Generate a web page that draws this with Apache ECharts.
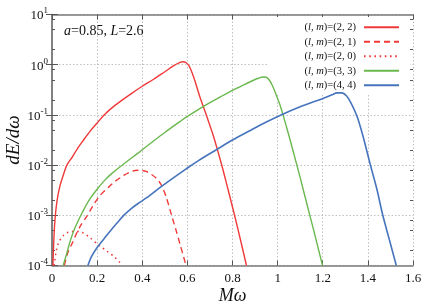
<!DOCTYPE html>
<html>
<head>
<meta charset="utf-8">
<script src="https://cdn.jsdelivr.net/npm/echarts@6/dist/echarts.min.js"></script>
<style>html,body{margin:0;padding:0;background:#fff}#c{width:436px;height:305px}</style>
</head>
<body>
<div id="c"></div>
<script>
// ---- data ----
var seriesNames = ['(l, m)=(2, 2)', '(l, m)=(2, 1)', '(l, m)=(2, 0)', '(l, m)=(3, 3)', '(l, m)=(4, 4)'];

var l2m2X = [0.004, 0.008, 0.013, 0.022, 0.035, 0.05, 0.066, 0.09, 0.11, 0.14, 0.17, 0.2, 0.23, 0.26, 0.3, 0.35, 0.4, 0.45, 0.5, 0.54, 0.565, 0.58, 0.595, 0.608, 0.62, 0.634, 0.656, 0.686, 0.716, 0.751, 0.78, 0.808, 0.835, 0.862];
var l2m2Y = [1.0e-4, 3.16e-4, 7.9e-4, 1.9e-3, 3.8e-3, 6.3e-3, 1.0e-2, 1.45e-2, 2.04e-2, 3.16e-2, 4.8e-2, 6.9e-2, 9.8e-2, 0.132, 0.182, 0.263, 0.372, 0.513, 0.724, 0.955, 1.096, 1.148, 1.096, 0.933, 0.708, 0.468, 0.224, 0.0933, 0.0372, 0.0105, 3.3e-3, 1.05e-3, 3.3e-4, 1.0e-4];

var l2m1X = [0.055, 0.07, 0.09, 0.107, 0.13, 0.154, 0.18, 0.21, 0.25, 0.284, 0.32, 0.357, 0.387, 0.42, 0.46, 0.482, 0.505, 0.53, 0.55, 0.568, 0.594];
var l2m1Y = [1.0e-4, 1.8e-4, 2.8e-4, 4.2e-4, 6.6e-4, 9.5e-4, 1.5e-3, 2.4e-3, 3.6e-3, 4.9e-3, 6.3e-3, 7.6e-3, 7.9e-3, 7.4e-3, 5.6e-3, 4.2e-3, 2.4e-3, 1.0e-3, 5.0e-4, 2.6e-4, 1.0e-4];

var l2m0X = [0.009, 0.012, 0.019, 0.03, 0.049, 0.071, 0.1, 0.131, 0.168, 0.204, 0.242, 0.279, 0.313];
var l2m0Y = [1.0e-4, 1.23e-4, 1.95e-4, 2.9e-4, 3.9e-4, 4.6e-4, 4.8e-4, 4.6e-4, 3.6e-4, 2.6e-4, 1.95e-4, 1.45e-4, 1.0e-4];

var l3m3X = [0.05, 0.056, 0.064, 0.075, 0.086, 0.1, 0.116, 0.128, 0.145, 0.17, 0.2, 0.23, 0.264, 0.323, 0.39, 0.45, 0.5, 0.568, 0.597, 0.686, 0.75, 0.804, 0.85, 0.893, 0.915, 0.935, 0.95, 0.962, 0.975, 0.99, 1.012, 1.04, 1.071, 1.1, 1.13, 1.16, 1.199];
var l3m3Y = [1.0e-4, 1.26e-4, 1.66e-4, 2.51e-4, 3.63e-4, 5.37e-4, 7.76e-4, 1.0e-3, 1.41e-3, 2.19e-3, 3.31e-3, 4.79e-3, 6.76e-3, 1.1e-2, 1.86e-2, 3.02e-2, 4.47e-2, 7.41e-2, 9.12e-2, 0.162, 0.234, 0.316, 0.398, 0.49, 0.537, 0.569, 0.562, 0.501, 0.398, 0.275, 0.151, 0.0562, 0.0174, 5.62e-3, 1.66e-3, 5.0e-4, 1.0e-4];

var l4m4X = [0.159, 0.175, 0.2, 0.23, 0.26, 0.29, 0.32, 0.35, 0.38, 0.42, 0.475, 0.53, 0.593, 0.649, 0.73, 0.8, 0.879, 0.95, 1.02, 1.1, 1.16, 1.204, 1.24, 1.265, 1.285, 1.305, 1.325, 1.353, 1.38, 1.41, 1.44, 1.465, 1.495, 1.526];
var l4m4Y = [1.0e-4, 1.51e-4, 2.29e-4, 3.39e-4, 5.0e-4, 7.2e-4, 1.02e-3, 1.35e-3, 1.7e-3, 2.24e-3, 3.47e-3, 5.25e-3, 8.3e-3, 1.23e-2, 2.04e-2, 3.16e-2, 4.9e-2, 7.2e-2, 0.102, 0.145, 0.182, 0.214, 0.251, 0.275, 0.275, 0.24, 0.174, 0.0912, 0.0355, 0.0105, 3.3e-3, 1.05e-3, 3.3e-4, 1.0e-4];

var yMajorTicks = [1e-4, 1e-3, 1e-2, 1e-1, 1, 10];
var yMinorTicks = [2e-4, 5e-4, 8e-4, 2e-3, 5e-3, 8e-3, 2e-2, 5e-2, 8e-2, 0.2, 0.5, 0.8, 2, 5, 8];

// ---- chart ----
function zip(xs, ys) { return xs.map(function (x, i) { return [x, ys[i]]; }); }
var FONT = 'Liberation Serif';
var RED = '#f03a3a', GREEN = '#6ab84e', BLUE = '#4674bd';
var AXIS_COLOR = '#7a7a7a';
var GRID_LINE = { color: '#c0c0c0', type: [1.5, 2], width: 1 };

function expLabel(v) {
  var e = Math.round(Math.log10(v));
  return '{b|10}{s|' + e + '}';
}
var labelRich = {
  b: { fontFamily: FONT, fontSize: 13, color: '#111', verticalAlign: 'bottom', lineHeight: 16 },
  s: { fontFamily: FONT, fontSize: 9, color: '#111', verticalAlign: 'top', lineHeight: 16, padding: [0, 0, 6, 0] }
};

function yAx(opts) {
  var base = {
    type: 'log', logBase: 10, min: 1e-4, max: 10, gridIndex: 0,
    axisLine: { show: true, lineStyle: { color: AXIS_COLOR, width: 1.5 } },
    axisTick: { show: true, inside: true, length: 6, lineStyle: { color: '#555', width: 1 } },
    axisLabel: { show: false },
    splitLine: { show: false },
    minorTick: { show: false }
  };
  for (var k in opts) base[k] = opts[k];
  return base;
}

var lineStyles = [
  { color: RED, width: 1.4, type: 'solid' },
  { color: RED, width: 1.4, type: [6, 4] },
  { color: RED, width: 1.5, type: [1.6, 3.6] },
  { color: GREEN, width: 1.4, type: 'solid' },
  { color: BLUE, width: 1.6, type: 'solid' }
];
var allData = [zip(l2m2X, l2m2Y), zip(l2m1X, l2m1Y), zip(l2m0X, l2m0Y), zip(l3m3X, l3m3Y), zip(l4m4X, l4m4Y)];

var option = {
  animation: false,
  backgroundColor: '#fff',
  grid: { left: 52, right: 23, top: 14.5, bottom: 39.5, containLabel: false, outerBoundsMode: 'none' },
  title: {
    text: '{i|a}=0.85, {i|L}=2.6',
    left: 59, top: 19,
    textStyle: {
      fontFamily: FONT, fontSize: 14, fontWeight: 'normal', color: '#111',
      rich: { i: { fontFamily: FONT, fontSize: 14, fontStyle: 'italic', color: '#111' } }
    }
  },
  legend: {
    orient: 'vertical', right: 26, top: 17, align: 'right', z: 1,
    itemWidth: 35, itemHeight: 10, itemGap: 0,
    padding: [3, 10, 1, 37],
    backgroundColor: '#fff',
    data: seriesNames,
    itemStyle: { color: 'rgba(0,0,0,0)', borderColor: 'rgba(0,0,0,0)', borderWidth: 0, opacity: 0 },
    formatter: function (name) {
      return name.replace('(l, m)', '({i|l}, {i|m})');
    },
    textStyle: {
      fontFamily: FONT, fontSize: 10.5, color: '#111', padding: [0, 3, 0, 0], lineHeight: 14.5,
      rich: { i: { fontFamily: FONT, fontSize: 10.5, fontStyle: 'italic', color: '#111', lineHeight: 14.5 } }
    }
  },
  xAxis: [
    {
      type: 'value', min: 0, max: 1.6, interval: 0.2, position: 'bottom',
      name: 'Mω', nameLocation: 'middle', nameGap: 22, nameMoveOverlap: false,
      nameTextStyle: { fontFamily: FONT, fontSize: 18, fontStyle: 'italic', color: '#111' },
      axisLine: { show: true, lineStyle: { color: AXIS_COLOR, width: 1.5 } },
      axisTick: { show: true, inside: true, length: 5, lineStyle: { color: '#555' } },
      axisLabel: {
        margin: 7, fontFamily: FONT, fontSize: 13, color: '#111',
        formatter: function (v) { return String(parseFloat(v.toFixed(2))); }
      },
      splitLine: { show: true, lineStyle: GRID_LINE }
    },
    {
      type: 'value', min: 0, max: 1.6, interval: 0.2, position: 'top',
      axisLine: { show: true, lineStyle: { color: AXIS_COLOR, width: 1.5 } },
      axisTick: { show: true, inside: true, length: 5, lineStyle: { color: '#555' } },
      axisLabel: { show: false },
      splitLine: { show: false }
    }
  ],
  yAxis: [
    yAx({
      position: 'left',
      name: 'dE/dω', nameLocation: 'middle', nameGap: 29, nameMoveOverlap: false,
      nameTextStyle: { fontFamily: FONT, fontSize: 19, fontStyle: 'italic', color: '#111' },
      axisTick: { show: true, inside: true, length: 6, customValues: yMajorTicks, lineStyle: { color: '#555', width: 1 } },
      axisLabel: { show: true, margin: 4, customValues: yMajorTicks, formatter: expLabel, rich: labelRich },
      splitLine: { show: true, lineStyle: GRID_LINE }
    }),
    yAx({ position: 'right', axisTick: { show: true, inside: true, length: 6, customValues: yMajorTicks, lineStyle: { color: '#555', width: 1 } } }),
    yAx({ position: 'left', axisLine: { show: false }, axisTick: { show: true, inside: true, length: 3, customValues: yMinorTicks, lineStyle: { color: '#555', width: 1 } } }),
    yAx({ position: 'right', axisLine: { show: false }, axisTick: { show: true, inside: true, length: 3, customValues: yMinorTicks, lineStyle: { color: '#555', width: 1 } } })
  ],
  series: seriesNames.map(function (n, i) {
    return {
      name: n, type: 'line', xAxisIndex: 0, yAxisIndex: 0,
      data: allData[i], showSymbol: false, symbol: 'none', smooth: 0.3,
      lineStyle: lineStyles[i], itemStyle: { color: lineStyles[i].color },
      clip: true, z: 3
    };
  })
};

var chart = echarts.init(document.getElementById('c'), null, { renderer: 'canvas' });
chart.setOption(option);
</script>
</body>
</html>
